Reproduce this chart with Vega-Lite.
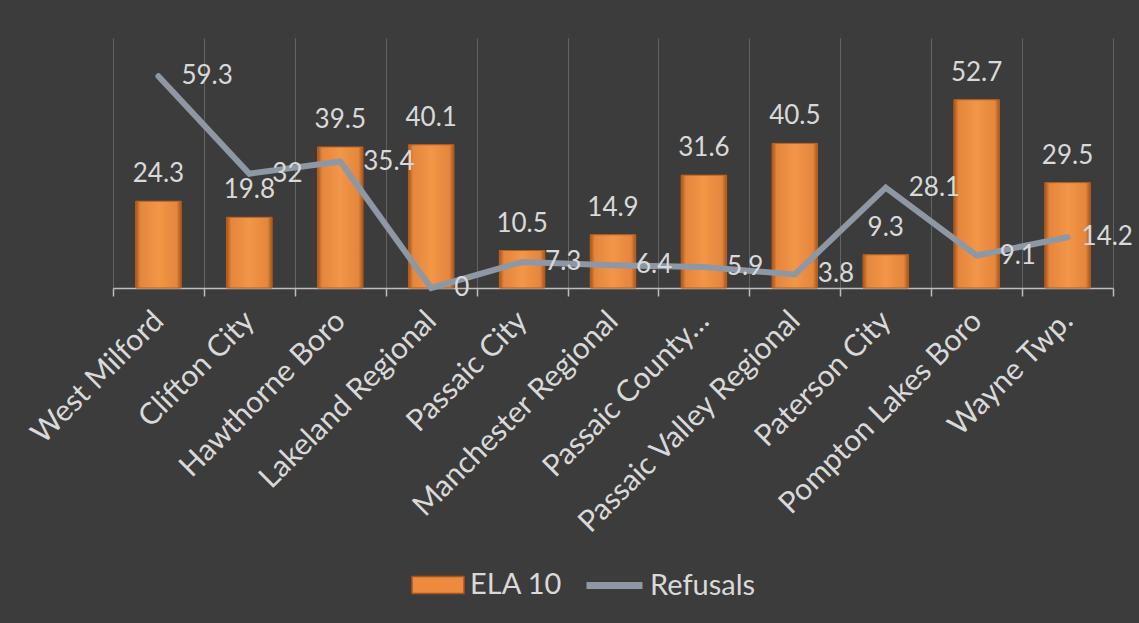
{
  "$schema": "https://vega.github.io/schema/vega-lite/v6.json",
  "width": 1000,
  "height": 250,
  "autosize": {"type": "none"},
  "padding": {"left": 113, "top": 38, "right": 26, "bottom": 335},
  "background": "#3c3c3c",
  "config": {"view": {"stroke": null}, "font": "Lato"},
  "data": {
    "values": [
      {"district": "West Milford", "series": "ELA 10", "value": 24.3},
      {"district": "Clifton City", "series": "ELA 10", "value": 19.8},
      {"district": "Hawthorne Boro", "series": "ELA 10", "value": 39.5},
      {"district": "Lakeland Regional", "series": "ELA 10", "value": 40.1},
      {"district": "Passaic City", "series": "ELA 10", "value": 10.5},
      {"district": "Manchester Regional", "series": "ELA 10", "value": 14.9},
      {"district": "Passaic County…", "series": "ELA 10", "value": 31.6},
      {"district": "Passaic Valley Regional", "series": "ELA 10", "value": 40.5},
      {"district": "Paterson City", "series": "ELA 10", "value": 9.3},
      {"district": "Pompton Lakes Boro", "series": "ELA 10", "value": 52.7},
      {"district": "Wayne Twp.", "series": "ELA 10", "value": 29.5},
      {"district": "West Milford", "series": "Refusals", "value": 59.3},
      {"district": "Clifton City", "series": "Refusals", "value": 32},
      {"district": "Hawthorne Boro", "series": "Refusals", "value": 35.4},
      {"district": "Lakeland Regional", "series": "Refusals", "value": 0},
      {"district": "Passaic City", "series": "Refusals", "value": 7.3},
      {"district": "Manchester Regional", "series": "Refusals", "value": 6.4},
      {"district": "Passaic County…", "series": "Refusals", "value": 5.9},
      {"district": "Passaic Valley Regional", "series": "Refusals", "value": 3.8},
      {"district": "Paterson City", "series": "Refusals", "value": 28.1},
      {"district": "Pompton Lakes Boro", "series": "Refusals", "value": 9.1},
      {"district": "Wayne Twp.", "series": "Refusals", "value": 14.2}
    ]
  },
  "encoding": {
    "x": {
      "field": "district",
      "type": "nominal",
      "sort": null,
      "scale": {"paddingInner": 0, "paddingOuter": 0},
      "axis": {
        "title": null,
        "tickBand": "extent",
        "grid": true,
        "gridColor": "#626262",
        "gridWidth": 1,
        "domainColor": "#bdbdbd",
        "domainWidth": 1.5,
        "tickColor": "#bdbdbd",
        "tickWidth": 1.5,
        "tickSize": 8,
        "labelAngle": -45,
        "labelAlign": "right",
        "labelBaseline": "middle",
        "labelFont": "Lato",
        "labelFontSize": 30,
        "labelColor": "#d9d9d9",
        "labelPadding": 20,
        "labelLimit": 0,
        "labelOverlap": false
      }
    },
    "y": {
      "field": "value",
      "type": "quantitative",
      "scale": {"domain": [0, 70]},
      "axis": null
    }
  },
  "layer": [
    {
      "transform": [{"filter": "datum.series === 'ELA 10'"}],
      "mark": {"type": "bar", "width": {"band": 0.5}},
      "encoding": {
        "fill": {
          "field": "series",
          "type": "nominal",
          "scale": {"domain": ["ELA 10"], "range": ["#ec8b3e"]},
          "legend": {
            "title": null,
            "orient": "none",
            "legendX": 298,
            "legendY": 520,
            "direction": "horizontal",
            "labelFont": "Lato",
            "labelFontSize": 29,
            "labelColor": "#d9d9d9",
            "labelOffset": 5,
            "symbolType": "M-1,-0.33H1V0.33H-1Z",
            "symbolSize": 2704,
            "symbolStrokeColor": "#a6561c",
            "symbolStrokeWidth": 1.5,
            "symbolOpacity": 1
          }
        }
      }
    },
    {
      "transform": [{"filter": "datum.series === 'ELA 10'"}],
      "mark": {
        "type": "bar",
        "width": {"band": 0.5},
        "stroke": "#b45f20",
        "strokeWidth": 1,
        "fill": {
          "gradient": "linear",
          "x1": 0, "y1": 0, "x2": 1, "y2": 0,
          "stops": [
            {"offset": 0, "color": "#a8541a"},
            {"offset": 0.1, "color": "#e4863c"},
            {"offset": 0.5, "color": "#f29648"},
            {"offset": 0.9, "color": "#e4863c"},
            {"offset": 1, "color": "#a8541a"}
          ]
        }
      },
      "encoding": {}
    },
    {
      "transform": [{"filter": "datum.series === 'Refusals'"}],
      "mark": {"type": "line", "strokeWidth": 6, "strokeCap": "round"},
      "encoding": {
        "stroke": {
          "field": "series",
          "type": "nominal",
          "scale": {"domain": ["Refusals"], "range": ["#8d98a4"]},
          "legend": {
            "title": null,
            "orient": "none",
            "legendX": 470,
            "legendY": 516,
            "direction": "horizontal",
            "labelFont": "Lato",
            "labelFontSize": 29,
            "labelColor": "#d9d9d9",
            "labelOffset": 4,
            "symbolType": "stroke",
            "symbolSize": 3136,
            "symbolStrokeWidth": 7,
            "symbolOpacity": 1
          }
        }
      }
    },
    {
      "transform": [{"filter": "datum.series === 'ELA 10'"}],
      "mark": {"type": "text", "align": "center", "baseline": "alphabetic", "dy": -19, "fontSize": 26, "font": "Lato", "color": "#d9d9d9"},
      "encoding": {"text": {"field": "value", "type": "quantitative"}}
    },
    {
      "transform": [{"filter": "datum.series === 'Refusals' && datum.district !== 'Wayne Twp.'"}],
      "mark": {"type": "text", "align": "left", "baseline": "middle", "dx": 23, "fontSize": 26, "font": "Lato", "color": "#d9d9d9"},
      "encoding": {"text": {"field": "value", "type": "quantitative"}}
    },
    {
      "transform": [{"filter": "datum.series === 'Refusals' && datum.district === 'Wayne Twp.'"}],
      "mark": {"type": "text", "align": "left", "baseline": "middle", "dx": 14, "fontSize": 26, "font": "Lato", "color": "#d9d9d9"},
      "encoding": {"text": {"field": "value", "type": "quantitative"}}
    }
  ]
}
